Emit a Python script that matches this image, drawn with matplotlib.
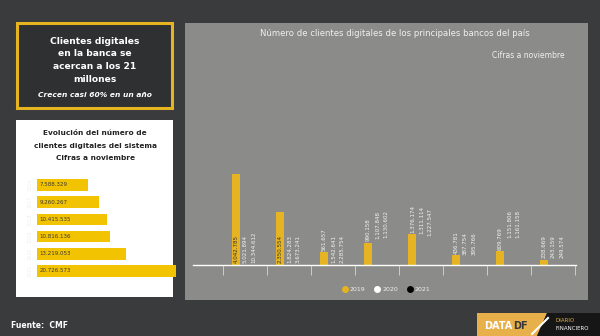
import matplotlib.pyplot as plt
from matplotlib.patches import Rectangle, Polygon
from matplotlib.lines import Line2D

# data
grupos = list(range(8))
v2019 = [4042785, 2350554, 561657, 990158, 1376174, 436781, 609769, 238669]
v2020 = [5021894, 1824283, 1542641, 1107848, 1311114, 387754, 1151806, 243159]
v2021 = [10344612, 3673241, 2285754, 1130602, 1227547, 395766, 1161158, 249574]
series = ['2019', '2020', '2021']

anios = ['2016', '2017', '2018', '2019', '2020', '2021']
total = [7588329, 9260267, 10415535, 10816136, 13219053, 20726573]

W, H = 600, 336
amarillo = '#e6b422'
amarillo2 = '#f2c300'
gris = '#8b8b89'
fondo = '#393b3d'


def fmt(v):
    return f'{v:,}'.replace(',', '.')


def rect(x0, y0, x1, y1):
    return [x0 / W, 1 - y1 / H, (x1 - x0) / W, (y1 - y0) / H]


fig = plt.figure(figsize=(6, 3.36), dpi=100)
fig.patch.set_facecolor(fondo)

# background layer in pixel coords
bg = fig.add_axes([0, 0, 1, 1])
bg.set_xlim(0, W)
bg.set_ylim(H, 0)
bg.axis('off')

# title box
bg.add_patch(Rectangle((17, 23), 155, 85, facecolor='#2f3031',
                       edgecolor='#e4b520', lw=2.2))
for i, t in enumerate(['Clientes digitales', 'en la banca se',
                       'acercan a los 21', 'millones']):
    bg.text(95, 41 + i * 12.7, t, color='white', fontsize=6.6,
            fontweight='bold', ha='center', va='center')
bg.text(95, 95, 'Crecen casi 60% en un año', color='white', fontsize=5.4,
        fontweight='bold', style='italic', ha='center', va='center')

# white panel
bg.add_patch(Rectangle((16, 120), 157, 177, facecolor='white', lw=0))
for i, t in enumerate(['Evolución del número de',
                       'clientes digitales del sistema',
                       'Cifras a noviembre']):
    bg.text(95, 133 + i * 12.7, t, color='#222222', fontsize=5.3,
            fontweight='bold', ha='center', va='center')

# main gray panel
bg.add_patch(Rectangle((185, 23), 403, 277, facecolor=gris, lw=0))
bg.text(395, 34, 'Número de clientes digitales de los principales bancos del país',
        color='#f0f0f0', fontsize=6.1, ha='center', va='center')
bg.text(492, 55, 'Cifras a noviembre', color='#f0f0f0', fontsize=5.5,
        ha='left', va='center')

# footer
bg.text(11, 325, 'Fuente:  CMF', color='white', fontsize=5.5,
        fontweight='bold', ha='left', va='center')
bg.add_patch(Polygon([(477, 313), (547, 313), (537, 336), (477, 336)],
                     closed=True, facecolor='#e8b04a', lw=0))
bg.add_patch(Polygon([(547, 313), (600, 313), (600, 336), (537, 336)],
                     closed=True, facecolor='#161616', lw=0))
bg.plot([532, 548], [334, 318], color='white', lw=1.5)
bg.text(484, 326, 'DATA', color='white', fontsize=7, fontweight='bold',
        ha='left', va='center')
bg.text(513, 326, 'DF', color='#3a3a3a', fontsize=7, fontweight='bold',
        ha='left', va='center')
bg.text(555, 321, 'DIARIO', color='#e8b04a', fontsize=4, ha='left', va='center')
bg.text(555, 329, 'FINANCIERO', color='white', fontsize=4, ha='left', va='center')

# left horizontal bars
axl = fig.add_axes(rect(37, 176.4, 176, 279.6))
axl.barh(range(len(anios)), total, height=0.67, color=amarillo2)
axl.set_xlim(0, max(total))
axl.set_ylim(len(anios) - 0.5, -0.5)
axl.axis('off')
for i, v in enumerate(total):
    axl.annotate(fmt(v), (0, i), xytext=(2, 0), textcoords='offset points',
                 fontsize=4, color='#3a3a3a', va='center', ha='left')
    axl.annotate(anios[i], (0, i), xytext=(-3, 0), textcoords='offset points',
                 fontsize=3.5, color='#eeeeee', va='center', ha='right',
                 rotation=90)

# main bars
ax = fig.add_axes(rect(193, 140, 576, 265))
ax.set_facecolor('none')
ax.set_xlim(-1.18, 7.52)
ax.set_ylim(0, 125 * 44573)
w = 0.18
offs = [-0.205, 0.0, 0.2]
vals = [v2019, v2020, v2021]
# 2020/2021 bars have not grown yet in the reference frame: only labels show
faces = [amarillo, (1, 1, 1, 0), (0, 0, 0, 0)]
for s, (o, vs, fc) in enumerate(zip(offs, vals, faces)):
    xs = [g + o for g in grupos]
    ax.bar(xs, vs, width=w, color=fc, lw=0)
    for x, v in zip(xs, vs):
        if v > 1450000:
            col = '#333333' if s == 0 else '#f2f2f2'
            ax.annotate(fmt(v), (x, 0), xytext=(0.3, 1.5),
                        textcoords='offset points', rotation=90,
                        fontsize=4, color=col, ha='center', va='bottom')
        else:
            ax.annotate(fmt(v), (x, v), xytext=(0.3, 1),
                        textcoords='offset points', rotation=90,
                        fontsize=4, color='#f2f2f2', ha='center', va='bottom')

for sp in ['top', 'right', 'left']:
    ax.spines[sp].set_visible(False)
ax.spines['bottom'].set_color('white')
ax.spines['bottom'].set_linewidth(1)
ax.set_xticks([g - 0.5 for g in grupos] + [7.5])
ax.set_xticklabels([])
ax.tick_params(axis='x', direction='out', length=7.2, width=0.6,
               color='#d8d8d8')
ax.set_yticks([])

handles = [Line2D([], [], marker='o', ls='', markersize=5, color=c,
                  markeredgewidth=0) for c in [amarillo, 'white', 'black']]
fig.legend(handles, series, loc='center', ncol=3,
           bbox_to_anchor=(386 / W, 1 - 289 / H), frameon=False,
           fontsize=4.5, labelcolor='#f0f0f0', handletextpad=0.3,
           columnspacing=1.4, handlelength=1.0)

fig.savefig('out.png', dpi=100, facecolor=fondo)
